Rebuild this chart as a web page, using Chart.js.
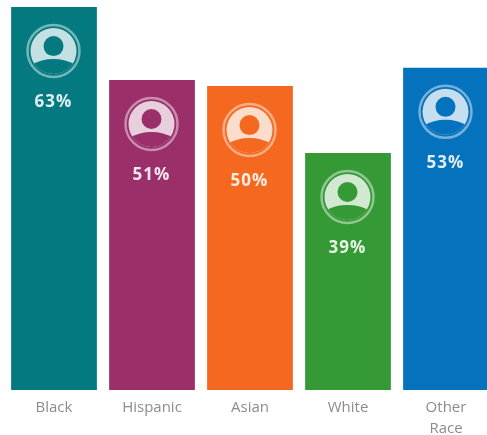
<!DOCTYPE html>
<html>
<head>
<meta charset="utf-8">
<title>Share by race</title>
<script src="https://cdn.jsdelivr.net/npm/chart.js@4"></script>
<style>
  html, body { margin: 0; padding: 0; background: #fff; width: 487px; height: 435px; overflow: hidden; }
  canvas { display: block; }
</style>
</head>
<body>
<canvas id="chart" width="497" height="446"></canvas>
<script>
const categories = ['Black', 'Hispanic', 'Asian', 'White', ['Other', 'Race']];
const shares = [63, 51, 50, 39, 53];
const barColors = ['#047a80', '#9b2f6a', '#f4691f', '#359a36', '#0572bd'];

// lighten a hex colour towards white
function tint(hex, amount) {
  const n = parseInt(hex.slice(1), 16);
  const mix = c => Math.round(c + (255 - c) * amount);
  return `rgb(${mix(n >> 16)},${mix((n >> 8) & 255)},${mix(n & 255)})`;
}

// person badge and percent text inside each bar
const badges = {
  id: 'badges',
  afterDatasetsDraw(chart) {
    const c = chart.ctx;
    chart.getDatasetMeta(0).data.forEach((bar, i) => {
      const color = barColors[i];
      const x = bar.x - 0.5;
      const y = bar.y + 44;

      c.save();
      c.strokeStyle = tint(color, 0.45);
      c.lineWidth = 2.5;
      c.beginPath();
      c.arc(x, y, 26, 0, Math.PI * 2);
      c.stroke();

      c.beginPath();
      c.arc(x, y, 23, 0, Math.PI * 2);
      c.fillStyle = tint(color, 0.77);
      c.fill();
      c.clip();

      c.fillStyle = color;
      c.beginPath();
      c.arc(x, y - 5, 10, 0, Math.PI * 2);
      c.fill();
      c.beginPath();
      c.ellipse(x, y + 26, 30, 18, 0, 0, Math.PI * 2);
      c.fill();
      c.restore();

      c.save();
      c.fillStyle = tint(color, 0.88);
      c.font = '700 17px "Open Sans"';
      c.letterSpacing = '1px';
      c.textAlign = 'center';
      c.textBaseline = 'middle';
      c.fillText(shares[i] + '%', x, bar.y + 95);
      c.restore();
    });
  }
};

new Chart(document.getElementById('chart'), {
  type: 'bar',
  data: {
    labels: categories,
    datasets: [{
      data: shares,
      backgroundColor: barColors,
      barPercentage: 0.875,
      categoryPercentage: 1
    }]
  },
  options: {
    responsive: false,
    animation: false,
    layout: { padding: { left: 5, top: 1, right: 2, bottom: 0 } },
    plugins: { legend: { display: false }, tooltip: { enabled: false } },
    scales: {
      x: {
        grid: { display: false, drawTicks: false },
        border: { display: false },
        ticks: {
          autoSkip: false,
          maxRotation: 0,
          padding: 7,
          color: '#8c8c8c',
          font: { family: '"Open Sans"', size: 15, lineHeight: 1.4 }
        }
      },
      y: { display: false, min: 0, max: 64 }
    }
  },
  plugins: [badges]
});
</script>
</body>
</html>
